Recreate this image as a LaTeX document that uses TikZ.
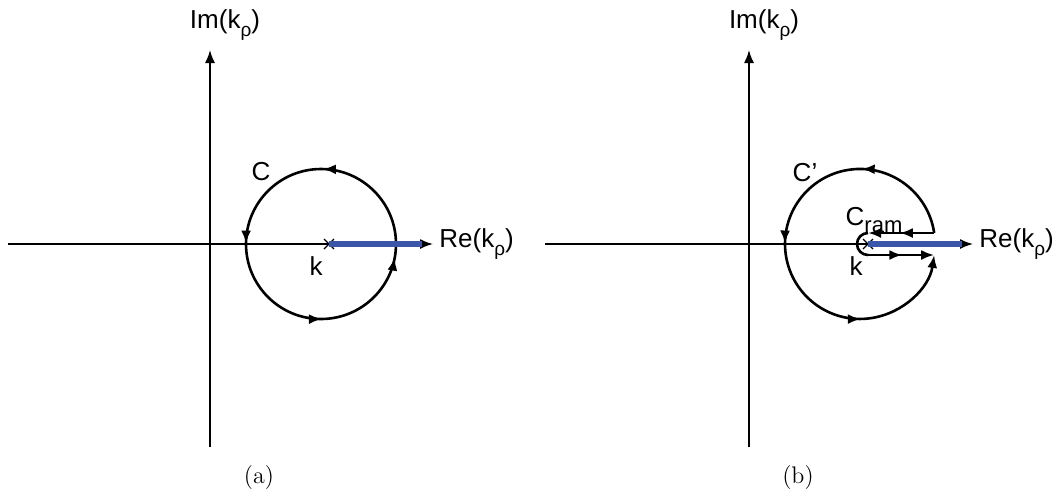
\documentclass[tikz,border=0pt]{standalone}
\usepackage{fontspec}
\usetikzlibrary{arrows.meta,decorations.markings,positioning}
\newfontfamily\lblfont{Liberation Sans}
\definecolor{cutblue}{RGB}{59,85,168}
\newcommand{\krho}{k\raisebox{-0.3em}{\fontsize{9.5}{11}\selectfont ρ}}

\begin{document}
\begin{tikzpicture}[x=0.5pt,y=0.5pt,>={Latex[length=6.5pt,width=5pt]},
  every node/.style={font=\lblfont\fontsize{13}{15}\selectfont},
  axis/.style={->,line width=0.8pt},
  contour/.style={line width=1.3pt},
  cut/.style={line width=3pt,cutblue},
  caption/.style={font=\normalfont\fontsize{12}{14}\selectfont}]
\useasboundingbox (0,-251) rectangle (1056,244);
% (a): contour C
\begin{scope}
\coordinate (ka) at (329,0);
\draw[axis] (8,0) -- (433,0) coordinate (rea);
\draw[axis] (210,-203) -- (210,194) coordinate (ima);
\node (ima lbl) at (225,219) {Im(\krho)};
\node[right=0pt of rea,inner sep=3pt] (rea lbl) {Re(\krho)};
\draw[contour,postaction={decorate},decoration={markings,
  mark=at position 0.246 with {\arrow{>}},mark=at position 0.499 with {\arrow{>}},
  mark=at position 0.752 with {\arrow{>}},mark=at position 0.971 with {\arrow{>}}}]
  (321,0) ++(0:75) arc (0:360:75);
\draw[line width=0.6pt] (ka) +(-5,-5) -- +(5,5) (ka) +(-5,5) -- +(5,-5);
\draw[cut] (ka) -- (422,0);
\node (ca lbl) at (261,72) {C};
\node (ka lbl) at (316,-22) {k};
\node[caption] (cap a) at (259,-234) {(a)};
\end{scope}
% (b): deformed contour C' with C_ram round the cut
\begin{scope}[shift={(539,0)}]
\coordinate (kb) at (329,0);
\coordinate (up) at (395.2,11);
\coordinate (lo) at (395.2,-11);
\draw[axis] (6,0) -- (434,0) coordinate (reb);
\draw[axis] (210,-203) -- (210,194) coordinate (imb);
\node (imb lbl) at (225,219) {Im(\krho)};
\node[right=0pt of reb,inner sep=3pt] (reb lbl) {Re(\krho)};
\draw[contour,->,postaction={decorate},decoration={markings,
  mark=at position 0.234 with {\arrow{>}},mark=at position 0.499 with {\arrow{>}},
  mark=at position 0.764 with {\arrow{>}}}]
  (up) arc (8.4:351.6:75);
\draw[line width=0.6pt] (kb) +(-5,-5) -- +(5,5) (kb) +(-5,5) -- +(5,-5);
\draw[cut] (kb) -- (423,0);
\draw[contour,->,postaction={decorate},decoration={markings,
  mark=at position 0.52 with {\arrow{>}}}] (up) -- (329,11);
\draw[contour] (329,11) arc (90:270:11);
\draw[contour,->,postaction={decorate},decoration={markings,
  mark=at position 0.52 with {\arrow{>}}}] (329,-11) -- (lo);
\node (cb lbl) at (266,71) {C’};
\node (cram lbl) at (335,24) {C\raisebox{-0.3em}{\fontsize{11}{13}\selectfont ram}};
\node (kb lbl) at (317,-22) {k};
\node[caption] (cap b) at (259,-234) {(b)};
\end{scope}
\end{tikzpicture}
\end{document}
